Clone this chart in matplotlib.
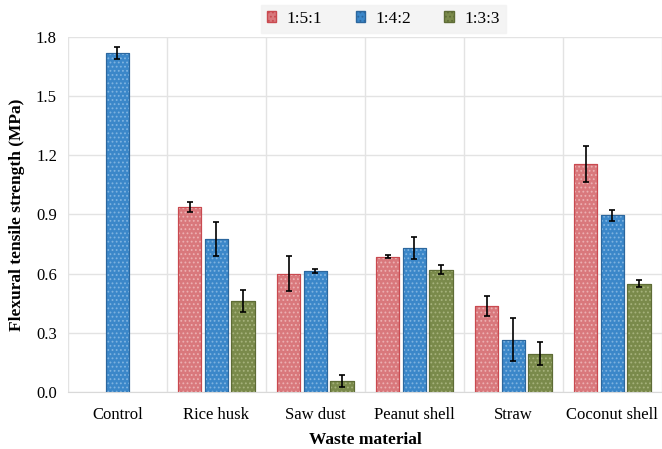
import numpy as np
import matplotlib
matplotlib.use("Agg")
import matplotlib.pyplot as plt
from matplotlib.patches import Patch

# data
categories = ["Control", "Rice husk", "Saw dust", "Peanut shell", "Straw", "Coconut shell"]
mixes = ["1:5:1", "1:4:2", "1:3:3"]
val_151 = [np.nan, 0.94, 0.60, 0.685, 0.435, 1.155]
err_151 = [0, 0.025, 0.09, 0.008, 0.05, 0.09]
val_142 = [1.72, 0.775, 0.615, 0.73, 0.265, 0.895]
err_142 = [0.03, 0.085, 0.01, 0.055, 0.11, 0.03]
val_133 = [np.nan, 0.46, 0.055, 0.62, 0.195, 0.55]
err_133 = [0, 0.055, 0.03, 0.022, 0.06, 0.02]

faces = ["#d9787c", "#3b87c9", "#7a8a4b"]
edges = ["#c94a50", "#2c679e", "#5e6c36"]
hatchc = ["#ecb0b2", "#7fb3e0", "#a6b27c"]

plt.rcParams["font.family"] = ["Liberation Serif", "DejaVu Serif"]
plt.rcParams["hatch.linewidth"] = 0.8

fig = plt.figure(figsize=(6.62, 4.49), dpi=100)
ax = fig.add_axes([0.1027, 0.127, 0.897, 0.7906])

x = np.arange(len(categories))
w = 0.237
step = 0.27
vals = [val_151, val_142, val_133]
errs = [err_151, err_142, err_133]
for i in range(3):
    pos = x + (i - 1) * step
    v = np.array(vals[i])
    e = np.array(errs[i])
    ok = ~np.isnan(v)
    ax.bar(pos[ok], v[ok], w, color=faces[i], edgecolor=edges[i], linewidth=0.8, zorder=3)
    ax.bar(pos[ok], v[ok], w, fill=False, hatch="....", edgecolor=hatchc[i], linewidth=0, zorder=3)
    ax.bar(pos[ok], v[ok], w, fill=False, edgecolor=edges[i], linewidth=0.8, zorder=3)
    ax.errorbar(pos[ok], v[ok], yerr=e[ok], fmt="none", ecolor="black", elinewidth=1.2,
                capsize=2.5, capthick=1.2, zorder=4)

ax.set_xlim(-0.5, len(categories) - 0.5)
ax.set_ylim(0, 1.8)
ax.set_yticks(np.arange(0, 1.81, 0.3))
ax.set_yticklabels([f"{t:.1f}" for t in np.arange(0, 1.81, 0.3)])
ax.set_xticks(x)
ax.set_xticklabels(categories)
ax.tick_params(length=0, labelsize=12, pad=8)
ax.tick_params(axis="x", pad=11)

ax.grid(axis="y", color="#e3e3e3", linewidth=1, zorder=0)
for b in np.arange(-0.5, len(categories), 1.0):
    ax.axvline(b, color="#e3e3e3", linewidth=1, zorder=0)
for s in ["top", "right", "left"]:
    ax.spines[s].set_visible(False)
ax.spines["bottom"].set_color("#d9d9d9")

ax.set_ylabel("Flexural tensile strength (MPa)", fontsize=12.5, fontweight="bold", labelpad=8)
ax.set_xlabel("Waste material", fontsize=12.5, fontweight="bold", labelpad=6)

handles = [Patch(facecolor=faces[i], edgecolor=edges[i], hatch="....") for i in range(3)]
leg = fig.legend(handles, mixes, loc="center", bbox_to_anchor=(0.579, 0.958), ncol=3,
                 frameon=True, fontsize=12.5, handlelength=0.55, handleheight=0.55,
                 columnspacing=1.9, handletextpad=0.6, borderpad=0.35, fancybox=False)
leg.get_frame().set_facecolor("#f2f2f2")
leg.get_frame().set_edgecolor("#f2f2f2")

fig.savefig("out.png", dpi=100)
